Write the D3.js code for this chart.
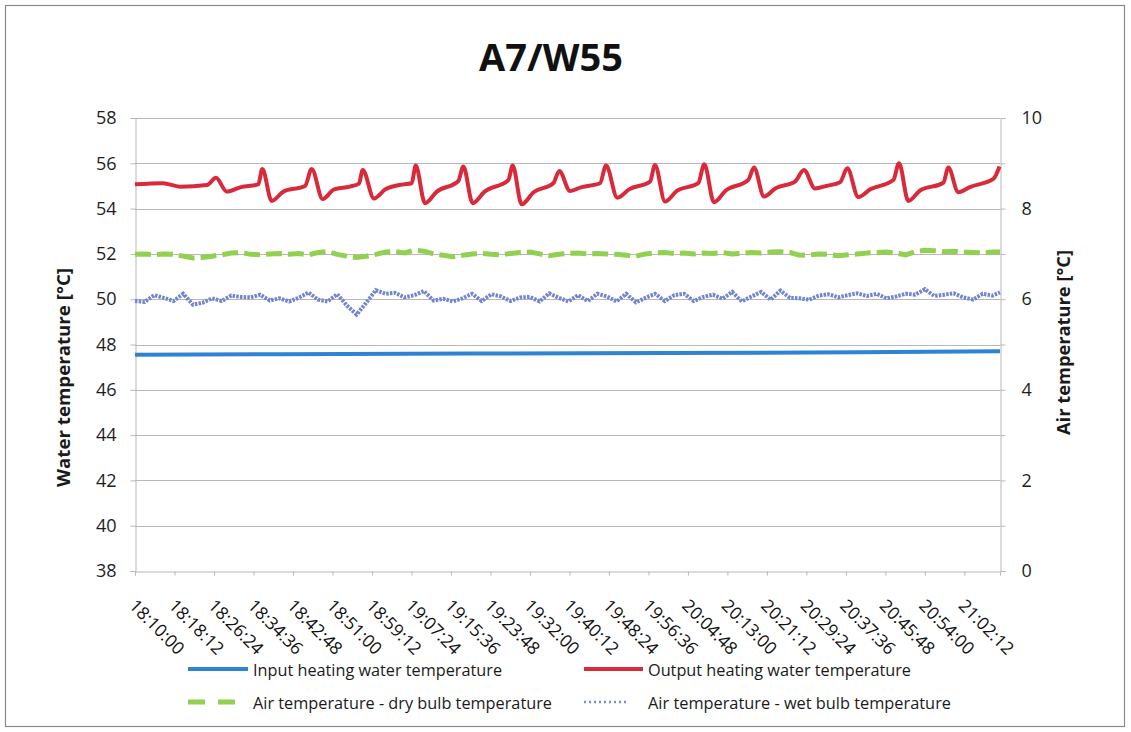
<!DOCTYPE html>
<html><head><meta charset="utf-8">
<script src="https://cdn.jsdelivr.net/npm/d3@7"></script>
<style>body{margin:0;background:#fff} text{font-family:"Open Sans",sans-serif}</style>
</head><body><svg id="c" width="1131" height="732"></svg>
<script>
// ---------------- DATA ----------------
const titleText = "A7/W55";
const leftAxisTitle = "Water temperature [°C]";
const rightAxisTitle = "Air temperature [°C]";
const xDomain = ["18:10:00", "21:09:36"];
const leftTicks = [38, 40, 42, 44, 46, 48, 50, 52, 54, 56, 58];
const rightTicks = [0, 1, 2, 3, 4, 5, 6, 7, 8, 9, 10];
const xTickLabels = ["18:10:00","18:18:12","18:26:24","18:34:36","18:42:48","18:51:00","18:59:12","19:07:24","19:15:36","19:23:48","19:32:00","19:40:12","19:48:24","19:56:36","20:04:48","20:13:00","20:21:12","20:29:24","20:37:36","20:45:48","20:54:00","21:02:12"];
const seriesNames = ["Input heating water temperature","Output heating water temperature","Air temperature - dry bulb temperature","Air temperature - wet bulb temperature"];

// Input heating water (left axis)
const inputTimes = ["18:10:00","18:40:00","19:20:00","20:00:00","20:40:00","21:09:36"];
const inputValues = [47.55, 47.57, 47.60, 47.62, 47.66, 47.70];

// Output heating water (left axis)
const outputTimes = ["18:10:00","18:15:48","18:19:21","18:24:57","18:26:49","18:29:02","18:32:00","18:35:36","18:36:26","18:38:23",
 "18:40:48","18:45:18","18:46:41","18:48:58","18:51:20","18:54:38","18:56:30","18:57:17","18:59:37","19:02:00",
 "19:05:42","19:07:27","19:08:17","19:10:13","19:12:40","19:17:08","19:18:10","19:20:07","19:22:35","19:27:31",
 "19:28:25","19:30:17","19:32:45","19:36:51","19:38:06","19:40:19","19:42:45","19:46:33","19:47:48","19:50:09",
 "19:52:35","19:56:56","19:57:58","20:00:03","20:02:30","20:06:57","20:08:12","20:10:13","20:12:40","20:17:20",
 "20:18:31","20:20:36","20:23:00","20:27:02","20:28:54","20:31:11","20:33:30","20:36:23","20:37:54","20:40:11",
 "20:42:40","20:47:27","20:48:38","20:50:34","20:53:00","20:57:50","20:58:52","21:00:57","21:03:20","21:08:13","21:09:30"];
const outputValues = [55.07,55.12,54.97,55.04,55.36,54.75,54.95,55.07,55.75,54.34,
 54.75,55.00,55.75,54.42,54.85,54.97,55.10,55.70,54.45,54.85,
 55.07,55.12,55.90,54.24,54.75,55.22,55.86,54.24,54.75,55.26,
 55.90,54.19,54.72,55.12,55.66,54.78,54.95,55.12,55.90,54.48,
 54.85,55.19,55.93,54.31,54.78,55.12,55.96,54.28,54.80,55.26,
 55.81,54.53,54.90,55.19,55.70,54.89,55.00,55.16,55.78,54.51,
 54.85,55.26,56.00,54.34,54.80,55.14,55.81,54.72,54.95,55.31,55.86];

// Air temperatures (right axis)
const airTimes = ["18:10:00","18:12:00","18:14:00","18:16:00","18:18:00","18:20:00","18:22:00","18:24:00","18:26:00","18:28:00",
 "18:30:00","18:32:00","18:34:00","18:36:00","18:38:00","18:40:00","18:42:00","18:44:00","18:46:00","18:48:00",
 "18:50:00","18:52:00","18:54:00","18:56:00","18:58:00","19:00:00","19:02:00","19:04:00","19:06:00","19:08:00",
 "19:10:00","19:12:00","19:14:00","19:16:00","19:18:00","19:20:00","19:22:00","19:24:00","19:26:00","19:28:00",
 "19:30:00","19:32:00","19:34:00","19:36:00","19:38:00","19:40:00","19:42:00","19:44:00","19:46:00","19:48:00",
 "19:50:00","19:52:00","19:54:00","19:56:00","19:58:00","20:00:00","20:02:00","20:04:00","20:06:00","20:08:00",
 "20:10:00","20:12:00","20:14:00","20:16:00","20:18:00","20:20:00","20:22:00","20:24:00","20:26:00","20:28:00",
 "20:30:00","20:32:00","20:34:00","20:36:00","20:38:00","20:40:00","20:42:00","20:44:00","20:46:00","20:48:00",
 "20:50:00","20:52:00","20:54:00","20:56:00","20:58:00","21:00:00","21:02:00","21:04:00","21:06:00","21:08:00","21:09:36"];
const dryBulbValues = [6.99,7.00,6.98,7.00,6.99,6.95,6.91,6.92,6.95,6.98,
 7.02,7.03,6.99,6.98,7.00,7.01,6.99,7.01,6.98,7.03,
 7.05,6.99,6.95,6.92,6.95,6.99,7.04,7.05,7.02,7.08,
 7.06,7.00,6.97,6.94,6.97,7.00,7.01,6.99,6.98,7.01,
 7.03,7.04,7.00,6.96,6.99,7.01,7.02,7.00,7.01,7.00,
 6.99,6.97,6.95,7.00,7.02,7.03,7.01,7.02,7.00,7.02,
 7.01,7.03,7.00,7.01,7.03,7.02,7.04,7.05,7.03,6.97,
 6.98,7.00,6.99,6.96,6.98,7.00,7.02,7.03,7.04,7.02,
 6.98,7.05,7.08,7.07,7.05,7.06,7.04,7.03,7.02,7.04,7.04];
const wetBulbValues = [5.96,5.94,6.09,6.03,5.96,6.12,5.88,5.92,6.02,5.96,
 6.08,6.05,6.04,6.10,5.97,6.02,5.95,6.03,6.15,5.99,
 5.95,6.11,5.86,5.66,5.92,6.20,6.12,6.14,6.04,6.09,
 6.18,5.97,6.01,5.95,6.02,6.12,5.96,6.11,6.06,5.96,
 6.04,6.05,5.95,6.13,6.03,5.95,6.09,5.96,6.12,6.06,
 5.95,6.12,5.93,6.03,6.12,5.96,6.09,6.12,5.96,6.05,
 6.10,6.01,6.16,5.95,6.06,6.16,5.99,6.19,6.03,6.02,
 5.99,6.08,6.11,6.04,6.09,6.13,6.07,6.12,6.02,6.06,
 6.12,6.10,6.22,6.07,6.10,6.13,6.04,5.99,6.12,6.08,6.15];

// ---------------- CHART ----------------
const svg = d3.select("#c");
const FONT = '"Open Sans", sans-serif';
const parse = d3.timeParse("%H:%M:%S");

svg.append("rect").attr("width",1131).attr("height",732).attr("fill","#fff");
svg.append("rect").attr("x",5.5).attr("y",5.5).attr("width",1119).attr("height",721)
  .attr("fill","none").attr("stroke","#8a8a8a").attr("stroke-width",1.2);

const x = d3.scaleTime().domain(xDomain.map(parse)).range([135, 1000]);
const yL = d3.scaleLinear().domain([38, 58]).range([571, 118]);
const yR = d3.scaleLinear().domain([0, 10]).range([571, 118]);

// gridlines
svg.append("g").selectAll("line").data(leftTicks.slice(1)).join("line")
  .attr("x1", 135).attr("x2", 1000)
  .attr("y1", d => Math.round(yL(d)) + 0.5).attr("y2", d => Math.round(yL(d)) + 0.5)
  .attr("stroke", "#b8b8b8").attr("stroke-width", 1);

// left axis
const gL = svg.append("g").attr("transform", "translate(135.5,0)")
  .call(d3.axisLeft(yL).tickValues(leftTicks).tickSize(5).tickPadding(14).tickFormat(d3.format("d")));
gL.attr("font-family", FONT).attr("font-size", 18);
gL.select(".domain").attr("stroke", "#b8b8b8");
gL.selectAll(".tick line").attr("stroke", "#b8b8b8");
gL.selectAll(".tick text").attr("fill", "#1e1e1e");

// right axis
const gR = svg.append("g").attr("transform", "translate(1000.5,0)")
  .call(d3.axisRight(yR).tickValues(rightTicks).tickSize(5).tickPadding(16).tickFormat(d => d % 2 === 0 ? d : ""));
gR.attr("font-family", FONT).attr("font-size", 18);
gR.select(".domain").attr("stroke", "#b8b8b8");
gR.selectAll(".tick line").attr("stroke", "#b8b8b8");
gR.selectAll(".tick text").attr("fill", "#1e1e1e");

// bottom axis
const gX = svg.append("g").attr("transform", "translate(0,571.5)")
  .call(d3.axisBottom(x).tickValues(xTickLabels.map(parse)).tickSize(4).tickFormat(d3.timeFormat("%H:%M:%S")));
gX.attr("font-family", FONT).attr("font-size", 17.5);
gX.select(".domain").attr("stroke", "#b8b8b8");
gX.selectAll(".tick line").attr("stroke", "#b8b8b8");
gX.selectAll(".tick text").attr("fill", "#111").attr("text-anchor", "start")
  .attr("x", 0).attr("y", 0).attr("dy", "0.35em")
  .attr("transform", "translate(-3,31) rotate(45)");

// lines
const lineL = d3.line().x(d => x(d.t)).y(d => yL(d.v));
const lineR = d3.line().x(d => x(d.t)).y(d => yR(d.v));
const zip = (ts, vs) => ts.map((t, i) => ({ t: parse(t), v: vs[i] }));

svg.append("path").datum(zip(inputTimes, inputValues))
  .attr("d", lineL).attr("fill", "none").attr("stroke", "#2f83d3").attr("stroke-width", 4);
svg.append("path").datum(zip(outputTimes, outputValues))
  .attr("d", lineL.curve(d3.curveMonotoneX)).attr("fill", "none").attr("stroke", "#d92a3b")
  .attr("stroke-width", 4).attr("stroke-linejoin", "round");
svg.append("path").datum(zip(airTimes, dryBulbValues))
  .attr("d", lineR).attr("fill", "none").attr("stroke", "#92d050").attr("stroke-width", 5)
  .attr("stroke-dasharray", "16,6");
svg.append("path").datum(zip(airTimes, wetBulbValues))
  .attr("d", lineR).attr("fill", "none").attr("stroke", "#7285d0").attr("stroke-width", 4)
  .attr("stroke-dasharray", "2.5,1.2");

// title
svg.append("text").attr("x", 551).attr("y", 71).attr("text-anchor", "middle")
  .attr("font-family", FONT).attr("font-weight", "bold").attr("font-size", 38)
  .attr("fill", "#111").text(titleText);

// axis titles
svg.append("text").attr("transform", "translate(63,377.5) rotate(-90)")
  .attr("text-anchor", "middle").attr("dominant-baseline", "central")
  .attr("font-family", FONT).attr("font-weight", "bold").attr("font-size", 17.5)
  .attr("textLength", 219).attr("lengthAdjust", "spacingAndGlyphs")
  .attr("fill", "#1a1a1a").text(leftAxisTitle);
svg.append("text").attr("transform", "translate(1063,342.5) rotate(-90)")
  .attr("text-anchor", "middle").attr("dominant-baseline", "central")
  .attr("font-family", FONT).attr("font-weight", "bold").attr("font-size", 17.5)
  .attr("textLength", 185).attr("lengthAdjust", "spacingAndGlyphs")
  .attr("fill", "#1a1a1a").text(rightAxisTitle);

// legend
const legend = [
  { name: seriesNames[0], x0: 188, x1: 248, tx: 253, y: 669, color: "#2f83d3", w: 4, dash: null, len: 249 },
  { name: seriesNames[1], x0: 584, x1: 643, tx: 648, y: 669, color: "#d92a3b", w: 4, dash: null, len: 263 },
  { name: seriesNames[2], x0: 188, x1: 235, tx: 253, y: 702, color: "#92d050", w: 5, dash: "17,13", len: 299 },
  { name: seriesNames[3], x0: 584, x1: 628, tx: 648, y: 702, color: "#7b8dd3", w: 2.5, dash: "2,3", len: 303 }
];
const lg = svg.append("g").selectAll("g").data(legend).join("g");
lg.append("line").attr("x1", d => d.x0).attr("x2", d => d.x1).attr("y1", d => d.y).attr("y2", d => d.y)
  .attr("stroke", d => d.color).attr("stroke-width", d => d.w)
  .attr("stroke-dasharray", d => d.dash);
lg.append("text").attr("x", d => d.tx).attr("y", d => d.y).attr("dominant-baseline", "central")
  .attr("font-family", FONT).attr("font-size", 16.5).attr("fill", "#1a1a1a")
  .attr("textLength", d => d.len).attr("lengthAdjust", "spacingAndGlyphs")
  .text(d => d.name);
</script></body></html>
